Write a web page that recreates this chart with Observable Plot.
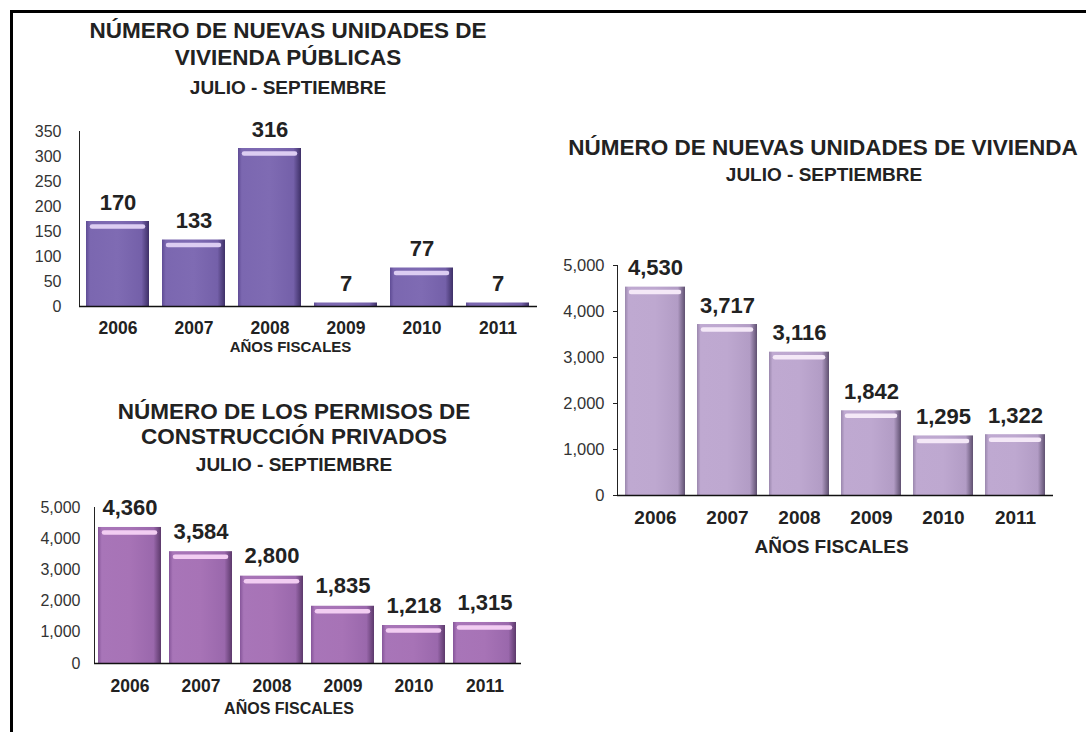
<!DOCTYPE html>
<html>
<head>
<meta charset="utf-8">
<script src="https://cdn.jsdelivr.net/npm/d3@7"></script>
<script src="https://cdn.jsdelivr.net/npm/@observablehq/plot@0.6"></script>
<style>
  html, body { margin: 0; padding: 0; background: #fff; }
  body { width: 1086px; height: 732px; overflow: hidden; position: relative;
         font-family: "Liberation Sans", Arial, sans-serif; }
  #frame { position: absolute; left: 10px; top: 10px; width: 1200px; height: 900px;
           border-top: 3px solid #000; border-left: 3px solid #000; }
  .t { position: absolute; transform: translateX(-50%); white-space: nowrap;
       font-weight: bold; color: #222; line-height: 1; }
  .panel { position: absolute; }
  .panel svg g[aria-label="y-axis tick label"] { font-size: 16px; fill: #333; }
  .panel svg g[aria-label="x-axis tick label"] { font-size: 17.5px; font-weight: bold; fill: #222; }
  #p2 svg g[aria-label="y-axis tick label"] { font-size: 16.5px; }
  #p2 svg g[aria-label="x-axis tick label"] { font-size: 19px; }
</style>
</head>
<body>
<div id="frame"></div>
<div class="t" style="left:288px; top:20px; font-size:22.5px;">NÚMERO DE NUEVAS UNIDADES DE</div>
<div class="t" style="left:288px; top:47px; font-size:22.5px;">VIVIENDA PÚBLICAS</div>
<div class="t" style="left:288px; top:78px; font-size:19px;">JULIO - SEPTIEMBRE</div>

<div class="t" style="left:294px; top:401px; font-size:22.5px;">NÚMERO DE LOS PERMISOS DE</div>
<div class="t" style="left:294px; top:426px; font-size:22.5px;">CONSTRUCCIÓN PRIVADOS</div>
<div class="t" style="left:294px; top:455px; font-size:19px;">JULIO - SEPTIEMBRE</div>

<div class="t" style="left:823px; top:137px; font-size:22.5px;">NÚMERO DE NUEVAS UNIDADES DE VIVIENDA</div>
<div class="t" style="left:824px; top:165px; font-size:19px;">JULIO - SEPTIEMBRE</div>

<div class="panel" id="p1" style="left:0px; top:110px;"></div>
<div class="panel" id="p3" style="left:0px; top:490px;"></div>
<div class="panel" id="p2" style="left:540px; top:245px;"></div>

<script>
// ---- data ----
const years = ["2006", "2007", "2008", "2009", "2010", "2011"];
const publicUnits = [170, 133, 316, 7, 77, 7];
const privatePermits = [4360, 3584, 2800, 1835, 1218, 1315];
const newUnits = [4530, 3717, 3116, 1842, 1295, 1322];
const ticksPublic = [0, 50, 100, 150, 200, 250, 300, 350];
const ticksThousands = [0, 1000, 2000, 3000, 4000, 5000];
const axisLabel = "AÑOS FISCALES";

const fmt = d3.format(",");
const font = '"Liberation Sans", Arial, sans-serif';

function addGradient(svg, id, stops) {
  const ns = "http://www.w3.org/2000/svg";
  const defs = document.createElementNS(ns, "defs");
  const lg = document.createElementNS(ns, "linearGradient");
  lg.setAttribute("id", id);
  lg.setAttribute("x1", "0"); lg.setAttribute("x2", "1");
  lg.setAttribute("y1", "0"); lg.setAttribute("y2", "0");
  for (const [off, col] of stops) {
    const s = document.createElementNS(ns, "stop");
    s.setAttribute("offset", off);
    s.setAttribute("stop-color", col);
    lg.appendChild(s);
  }
  defs.appendChild(lg);
  svg.insertBefore(defs, svg.firstChild);
}

function panel(cfg) {
  const data = years.map((year, i) => ({year, value: cfg.values[i]}));
  const svg = Plot.plot({
    width: cfg.width,
    height: cfg.height,
    marginLeft: cfg.ml, marginRight: cfg.mr, marginTop: cfg.mt, marginBottom: cfg.mb,
    style: {fontFamily: font, background: "transparent", color: "#222", overflow: "visible"},
    x: {domain: years, paddingInner: cfg.pi, paddingOuter: cfg.po, tickSize: 0,
        tickPadding: cfg.xPad, label: null},
    y: {domain: cfg.domain, ticks: cfg.ticks, tickFormat: fmt, tickSize: cfg.yTick,
        tickPadding: cfg.yPad, line: true, label: null},
    marks: [
      Plot.barY(data, {x: "year", y: "value", fill: `url(#${cfg.gid})`}),
      Plot.tickY(data, {x: "year", y: "value", dy: 5, inset: 6, stroke: cfg.hi,
                        strokeWidth: 4.5, strokeLinecap: "round",
                        filter: d => d.value >= cfg.hiMin}),
      Plot.ruleY([0], {stroke: "#111", strokeWidth: 1.3}),
      Plot.text(data, {x: "year", y: "value", text: d => fmt(d.value), dy: cfg.vdy,
                       fontSize: 22, fontWeight: "bold", fill: "#222"}),
      Plot.text([axisLabel], {text: d => d, frameAnchor: "bottom", dy: cfg.ldy, dx: cfg.ldx,
                              fontSize: cfg.lfs, fontWeight: "bold", fill: "#222"})
    ]
  });
  addGradient(svg, cfg.gid, cfg.stops);
  document.getElementById(cfg.el).appendChild(svg);
}

panel({
  el: "p1", gid: "g1", values: publicUnits, domain: [0, 350], ticks: ticksPublic,
  width: 560, height: 255, ml: 79, mr: 23, mt: 21, mb: 59,
  pi: 0.17, po: 0.08, xPad: 15, yTick: 0, yPad: 18, vdy: -19,
  ldy: 45, ldx: -18, lfs: 15, hi: "#dccdf2", hiMin: 24,
  stops: [["0", "#5f4c95"], ["0.06", "#7b67b0"], ["0.5", "#7f6bb3"], ["0.88", "#7460a9"], ["1", "#3e3067"]]
});

panel({
  el: "p3", gid: "g3", values: privatePermits, domain: [0, 5000], ticks: ticksThousands,
  width: 540, height: 240, ml: 94, mr: 19, mt: 17, mb: 67,
  pi: 0.11, po: 0.055, xPad: 16, yTick: 0, yPad: 14, vdy: -20,
  ldy: 50, ldx: -19, lfs: 16, hi: "#f2cdf2", hiMin: 400,
  stops: [["0", "#86569a"], ["0.06", "#a875b8"], ["0.5", "#a773b6"], ["0.88", "#9a68ac"], ["1", "#5c396b"]]
});

panel({
  el: "p2", gid: "g2", values: newUnits, domain: [0, 5000], ticks: ticksThousands,
  width: 546, height: 330, ml: 77, mr: 33, mt: 20, mb: 80,
  pi: 0.16, po: 0.08, xPad: 15, yTick: 4, yPad: 9, vdy: -19,
  ldy: 57, ldx: -4, lfs: 19, hi: "#f4e8f7", hiMin: 400,
  stops: [["0", "#9a87ad"], ["0.06", "#bfa9d1"], ["0.5", "#bea8d0"], ["0.88", "#b29cc5"], ["1", "#5f5070"]]
});
</script>
</body>
</html>
